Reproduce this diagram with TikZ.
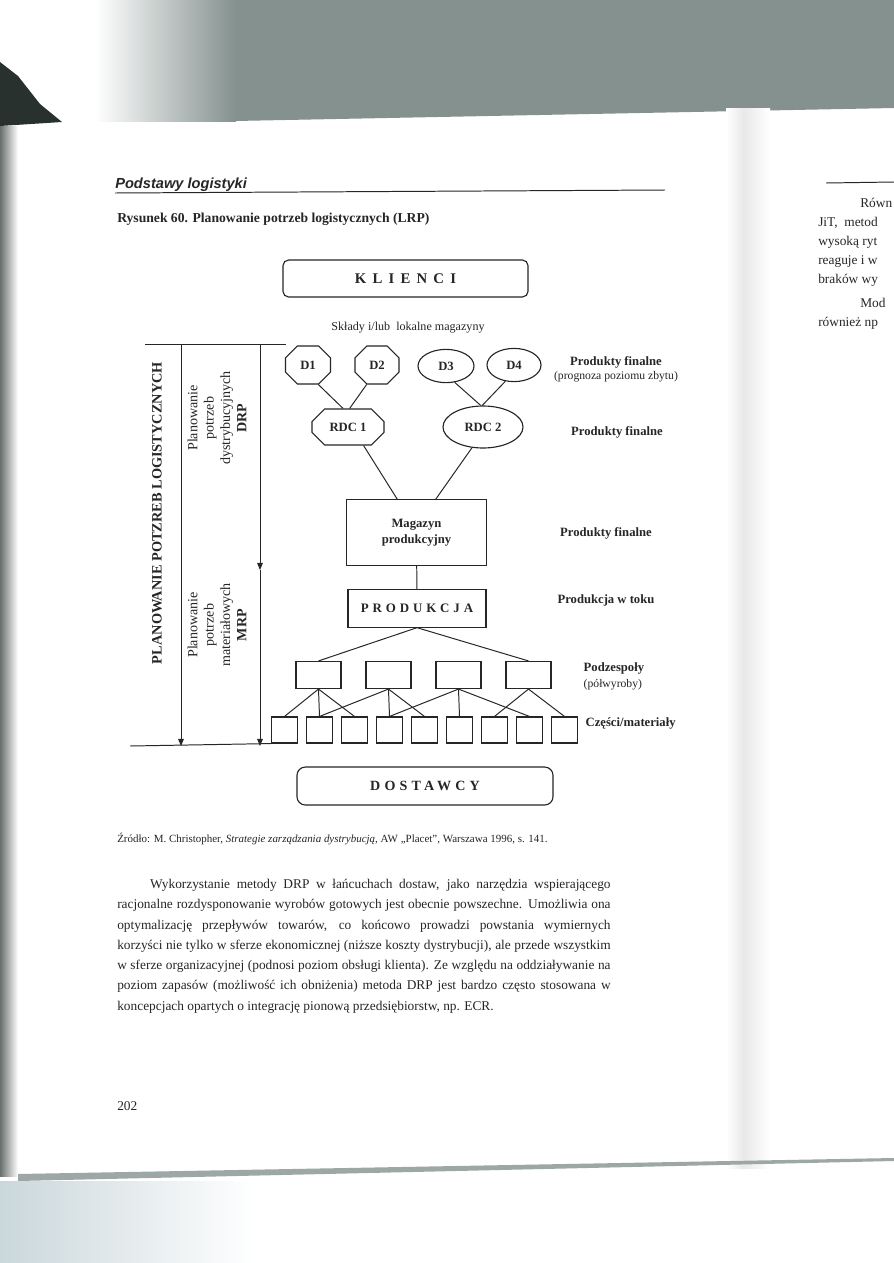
\documentclass[tikz,border=0pt]{standalone}
\usepackage{fontspec}
\setmainfont{Liberation Serif}
\setsansfont{Liberation Sans}
\newfontfamily\spacedfont[LetterSpace=30]{Liberation Serif}
\newfontfamily\widefont[LetterSpace=42]{Liberation Serif}
\usetikzlibrary{shapes.geometric, shapes.misc, arrows.meta, positioning}

\definecolor{ink}{HTML}{262626}
\definecolor{scangray}{HTML}{84918F}
\definecolor{scandark}{HTML}{28312E}
\definecolor{scanblue}{HTML}{CAD7DB}

\tikzstyle{endbox} = [rectangle, rounded corners=4pt, draw=ink, line width=0.8pt, minimum width=6.125cm, minimum height=0.925cm, text centered, text=ink, font=\spacedfont\bfseries\fontsize{10}{12}\selectfont]
\tikzstyle{box} = [rectangle, draw=ink, line width=0.8pt, text centered, text=ink, font=\bfseries\fontsize{9}{11}\selectfont]
\tikzstyle{octa} = [chamfered rectangle, chamfered rectangle xsep=6pt, chamfered rectangle ysep=6pt, draw=ink, line width=0.8pt, inner sep=0pt, text=ink, font=\bfseries\fontsize{9}{11}\selectfont]
\tikzstyle{oval} = [ellipse, draw=ink, line width=0.8pt, inner sep=0pt, text=ink, font=\bfseries\fontsize{9}{11}\selectfont]
\tikzstyle{sub} = [rectangle, draw=ink, line width=0.8pt, minimum width=1.125cm, minimum height=0.675cm]
\tikzstyle{part} = [rectangle, draw=ink, line width=0.8pt, minimum width=0.65cm, minimum height=0.65cm]
\tikzstyle{lbl} = [text=ink, inner sep=1pt, font=\bfseries\fontsize{9}{11}\selectfont]
\tikzstyle{note} = [text=ink, inner sep=1pt, font=\fontsize{8.3}{10}\selectfont]
\tikzstyle{line} = [draw=ink, line width=0.7pt]
\tikzstyle{arrow} = [draw=ink, line width=0.7pt, -{Triangle[length=5pt,width=4pt]}]
\tikzstyle{bodytext} = [text=ink, inner sep=0pt, font=\fontsize{9.5}{14.4}\selectfont]

\begin{document}
\begin{tikzpicture}[x=0.025cm, y=-0.025cm]

    % page and scan edges
    \useasboundingbox (0,0) rectangle (894,1263);
    \fill[white] (0,0) rectangle (894,1263);
    \shade[left color=white, right color=scangray] (95,0) rectangle (236,121);
    \fill[scangray] (235,0) -- (894,0) -- (894,108) -- (235,121) -- cycle;
    \fill[scandark] (0,62) -- (18,76) -- (40,104) -- (62,122) -- (0,126) -- cycle;
    \shade[left color=scandark!70, right color=white] (0,126) rectangle (18,1176);
    \shade[left color=white, right color=black!9] (726,108) rectangle (744,1168);
    \shade[left color=black!9, right color=white] (743,108) rectangle (770,1168);
    \fill[scangray!80] (18,1174) -- (894,1158) -- (894,1161) -- (18,1181) -- cycle;
    \shade[left color=scanblue, right color=white] (0,1181) rectangle (255,1263);

    % header and caption
    \node (header) [anchor=base west, inner sep=0pt, text=ink, font=\sffamily\bfseries\itshape\fontsize{10.4}{12}\selectfont] at (115,188) {Podstawy logistyki};
    \draw [line] (115,193) -- (665,190);
    \node (caption) [anchor=base west, inner sep=0pt, text=ink, font=\bfseries\fontsize{9.7}{11}\selectfont] at (117,222) {Rysunek 60. Planowanie potrzeb logistycznych (LRP)};

    % top and bottom of the chain
    \node (klienci) [endbox, font=\widefont\bfseries\fontsize{10.5}{12}\selectfont] at (405.5,278.5) {KLIENCI};
    \node (dostawcy) [endbox, minimum width=6.4cm, minimum height=0.95cm, rounded corners=6pt] at (425,786) {DOSTAWCY};
    \node (sklady) [note, font=\fontsize{8.6}{10}\selectfont] at (408,328) {Składy i/lub\ \ lokalne magazyny};

    % distribution
    \node (d1) [octa, minimum width=1.125cm, minimum height=0.95cm] at (308,365) {D1};
    \node (d2) [octa, minimum width=1.1cm, minimum height=0.95cm] at (377,365) {D2};
    \node (d3) [oval, minimum width=1.4cm, minimum height=0.83cm] at (446,366) {D3};
    \node (d4) [oval, minimum width=1.35cm, minimum height=0.83cm] at (514,365) {D4};
    \node (rdc1) [octa, minimum width=1.8cm, minimum height=0.9cm] at (348,427) {RDC 1};
    \node (rdc2) [oval, minimum width=2cm, minimum height=1.05cm] at (483,427) {RDC 2};
    \node (magazyn) [box, minimum width=3.48cm, minimum height=1.63cm, align=center] at (416.5,532.5) {Magazyn\\produkcyjny};
    \node (produkcja) [box, minimum width=3.45cm, minimum height=0.93cm, font=\spacedfont\bfseries\fontsize{9.2}{11}\selectfont] at (417,608.5) {PRODUKCJA};

    % production tree
    \foreach \i in {1,...,4}
        \node (s\i) [sub] at ({248.5+70*\i},675) {};
    \foreach \i in {1,...,9}
        \node (p\i) [part] at ({249.5+35*\i},730) {};

    \draw [line] (d1.-62) -- (rdc1.105);
    \draw [line] (d2.-118) -- (rdc1.85);
    \draw [line] (d3.-62) -- (rdc2.96);
    \draw [line] (d4.-118) -- (rdc2.92);
    \draw [line] (rdc1.-50) -- (magazyn.120);
    \draw [line] (rdc2.-118) -- (magazyn.60);
    \draw [line] (magazyn) -- (produkcja);
    \draw [line] (produkcja.south) -- (s1.north);
    \draw [line] (produkcja.south) -- (s4.north);
    \foreach \s/\p in {1/1,1/2,1/3,2/2,2/4,2/5,3/4,3/6,3/8,4/7,4/9}
        \draw [line] (s\s.south) -- (p\p.north);

    % levels on the right
    \node (pf1) [lbl] at (616,362) {Produkty finalne};
    \node (prognoza) [note, below=0pt of pf1] {(prognoza poziomu zbytu)};
    \node (pf2) [lbl] at (617,432) {Produkty finalne};
    \node (pf3) [lbl] at (606,533) {Produkty finalne};
    \node (wtoku) [lbl] at (606,600) {Produkcja w toku};
    \node (podzespoly) [lbl, anchor=west] at (582,668) {Podzespoły};
    \node (polwyroby) [note, anchor=west] at (582,685) {(półwyroby)};
    \node (czesci) [lbl, anchor=west] at (584,723) {Części/materiały};

    % planning ranges on the left
    \coordinate (topl) at (145,344);
    \coordinate (topr) at (286,344);
    \coordinate (bottoml) at (130,746);
    \coordinate (lrptop) at (181,344);
    \coordinate (lrpend) at (181,746);
    \coordinate (drptop) at (260,344);
    \coordinate (drpend) at (260,570);
    \coordinate (mrpend) at (260,746);
    \draw [line] (topl) -- (topr);
    \draw [line] (bottoml) -- (p1.south west);
    \draw [arrow] (lrptop) -- (lrpend);
    \draw [arrow] (drptop) -- (drpend);
    \draw [arrow] (drpend) -- (mrpend);

    \node (lrp) [rotate=90, text=ink, font=\bfseries\fontsize{10.2}{12}\selectfont] at (157,513) {PLANOWANIE POTZREB LOGISTYCZNYCH};
    \node (drp) [rotate=90, align=center, text=ink, font=\fontsize{10}{11.6}\selectfont] at (217,418) {Planowanie\\potrzeb\\dystrybucyjnych\\\textbf{DRP}};
    \node (mrp) [rotate=90, align=center, text=ink, font=\fontsize{10}{11.6}\selectfont] at (217,625) {Planowanie\\potrzeb\\materiałowych\\\textbf{MRP}};

    % source and text
    \node (zrodlo) [anchor=base west, inner sep=0pt, text=ink, font=\fontsize{7.8}{9}\selectfont] at (117,842) {Źródło: M. Christopher, \textit{Strategie zarządzania dystrybucją}, AW „Placet”, Warszawa 1996, s. 141.};
    \node (body) [bodytext, anchor=north west, text width=12.33cm, align=justify] at (117,879) {\hspace*{0.82cm}Wykorzystanie metody DRP w łańcuchach dostaw, jako narzędzia wspierającego\linebreak racjonalne rozdysponowanie wyrobów gotowych jest obecnie powszechne. Umożliwia ona\linebreak optymalizację przepływów towarów, co końcowo prowadzi powstania wymiernych\linebreak korzyści nie tylko w sferze ekonomicznej (niższe koszty dystrybucji), ale przede wszystkim\linebreak w sferze organizacyjnej (podnosi poziom obsługi klienta). Ze względu na oddziaływanie na\linebreak poziom zapasów (możliwość ich obniżenia) metoda DRP jest bardzo często stosowana w\linebreak koncepcjach opartych o integrację pionową przedsiębiorstw, np. ECR.};
    \node (pageno) [bodytext, anchor=base west] at (117,1110) {202};

    % edge of the facing page
    \begin{scope}
        \clip (780,150) rectangle (894,340);
        \draw [line] (826,183) -- (894,182);
        \node (r1) [bodytext, anchor=base west] at (860,207) {Równ};
        \node (r2) [bodytext, anchor=base west] at (818,226) {JiT,\ \ metod};
        \node (r3) [bodytext, anchor=base west] at (818,245) {wysoką ryt};
        \node (r4) [bodytext, anchor=base west] at (818,264) {reaguje i w};
        \node (r5) [bodytext, anchor=base west] at (818,283) {braków wy};
        \node (r6) [bodytext, anchor=base west] at (860,307) {Mod};
        \node (r7) [bodytext, anchor=base west] at (818,326) {również np};
    \end{scope}

\end{tikzpicture}
\end{document}
